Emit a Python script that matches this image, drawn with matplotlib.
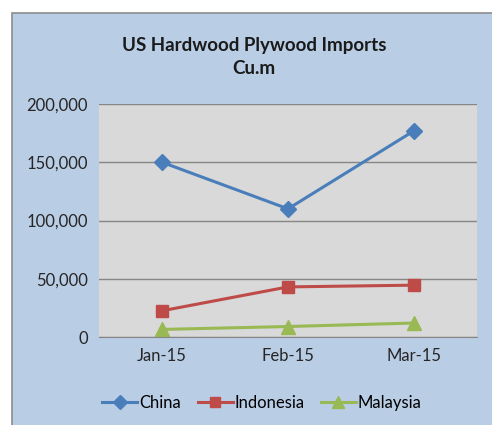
import matplotlib.pyplot as plt
from matplotlib.patches import Rectangle

months = ['Jan-15', 'Feb-15', 'Mar-15']
china = [150000, 110000, 177000]
indonesia = [22500, 43000, 44500]
malaysia = [6500, 9000, 12000]
yticks = [0, 50000, 100000, 150000, 200000]

W, H = 492, 425
fig = plt.figure(figsize=(W / 100, H / 100), dpi=100)
plt.rcParams['font.family'] = ['Lato', 'DejaVu Sans']

# chart frame (light blue with gray border)
fig.patches.append(Rectangle((12 / W, -0.01), 1 - 12 / W + 0.01, 1 - 13 / H + 0.01, transform=fig.transFigure,
                             facecolor='#B9CDE5', edgecolor='#8C8C8C', linewidth=1.2, zorder=-10))

ax = fig.add_axes([99 / W, 1 - 337 / H, (477 - 99) / W, (337 - 104) / H])
ax.set_facecolor('#D9D9D9')
x = range(len(months))
ax.plot(x, china, color='#4A7EBB', linewidth=2.2, marker='D', markersize=8, label='China')
ax.plot(x, indonesia, color='#BE4B48', linewidth=2.2, marker='s', markersize=9, label='Indonesia')
ax.plot(x, malaysia, color='#98B954', linewidth=2.2, marker='^', markersize=10, label='Malaysia')

ax.set_xlim(-0.5, 2.5)
ax.set_ylim(0, 200000)
ax.set_yticks(yticks)
ax.set_yticklabels([f'{v:,}' for v in yticks], fontsize=12, color='#262626')
ax.set_xticks(list(x))
ax.set_xticklabels(months, fontsize=12, color='#262626')
ax.tick_params(length=0, pad=8)
ax.grid(axis='y', color='#868686', linewidth=1)
ax.set_axisbelow(True)
for s in ['top', 'right', 'left']:
    ax.spines[s].set_visible(False)
ax.spines['bottom'].set_color('#868686')

fig.text(254 / W, 1 - 45 / H, 'US Hardwood Plywood Imports', ha='center', va='center',
         fontsize=13.5, fontweight='bold', color='#1A1A1A')
fig.text(254 / W, 1 - 68 / H, 'Cu.m', ha='center', va='center',
         fontsize=13.5, fontweight='bold', color='#1A1A1A')

fig.legend(loc='center', bbox_to_anchor=(262 / W, 1 - 403 / H), ncol=3, frameon=False,
           fontsize=12, handlelength=2.1, handletextpad=0.1, columnspacing=1.0, markerscale=0.85)

fig.savefig('out.png', dpi=100)
